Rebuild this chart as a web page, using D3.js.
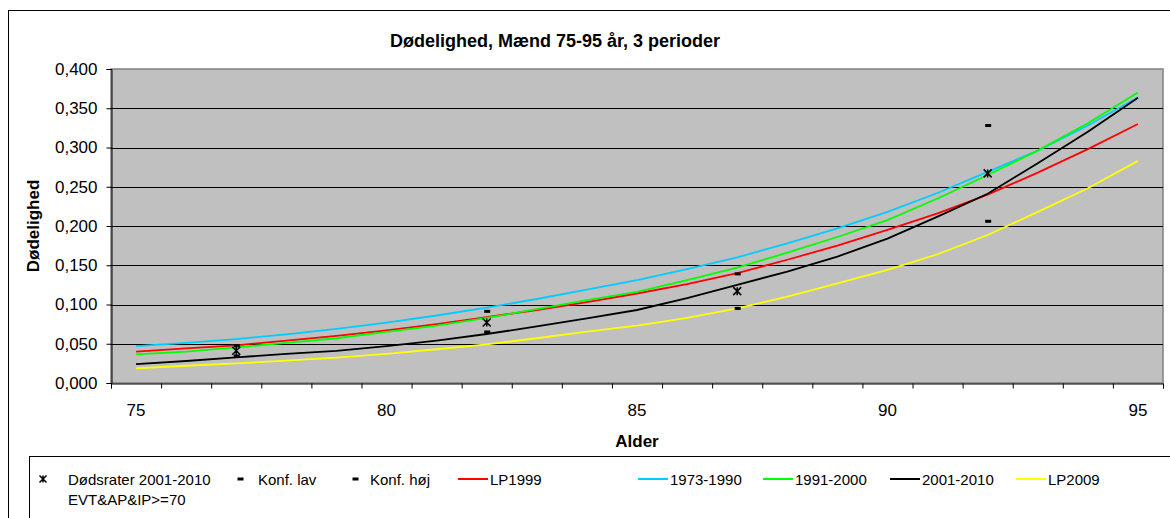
<!DOCTYPE html>
<html>
<head>
<meta charset="utf-8">
<script src="https://cdn.jsdelivr.net/npm/d3@7"></script>
<style>
  body { margin: 0; background: #fff; }
  svg { display: block; font-family: "Liberation Sans", Arial, sans-serif; }
</style>
</head>
<body>
<svg id="chart" width="1170" height="518"></svg>
<script>
// alder (kategorier)
const ages = [75, 76, 77, 78, 79, 80, 81, 82, 83, 84, 85, 86, 87, 88, 89, 90, 91, 92, 93, 94, 95]

// kurver
const lp1999   = [0.040, 0.044, 0.048, 0.054, 0.060, 0.067, 0.075, 0.084, 0.093, 0.103, 0.114, 0.126, 0.140, 0.157, 0.175, 0.195, 0.216, 0.240, 0.268, 0.298, 0.330]
const p1973    = [0.047, 0.051, 0.056, 0.062, 0.069, 0.077, 0.086, 0.096, 0.107, 0.119, 0.131, 0.145, 0.160, 0.178, 0.197, 0.218, 0.242, 0.269, 0.296, 0.328, 0.364]
const p1991    = [0.0365, 0.040, 0.0455, 0.051, 0.057, 0.065, 0.073, 0.083, 0.094, 0.1055, 0.116, 0.131, 0.147, 0.166, 0.186, 0.2075, 0.235, 0.265, 0.296, 0.331, 0.370]
const p2001    = [0.024, 0.028, 0.0327, 0.037, 0.041, 0.047, 0.054, 0.0624, 0.072, 0.0824, 0.093, 0.108, 0.125, 0.142, 0.161, 0.184, 0.212, 0.241, 0.280, 0.320, 0.3635]
const lp2009   = [0.0187, 0.022, 0.025, 0.0285, 0.0322, 0.037, 0.043, 0.0493, 0.057, 0.0654, 0.073, 0.083, 0.095, 0.110, 0.127, 0.144, 0.164, 0.1885, 0.218, 0.248, 0.283]

// observationer
const obsAges   = [77, 82, 87, 92]
const dodsrater = [0.041, 0.077, 0.117, 0.267]
const konfLav   = [0.0344, 0.065, 0.095, 0.206]
const konfHoj   = [0.0475, 0.0913, 0.139, 0.328]

const yTicks = [0, 0.05, 0.1, 0.15, 0.2, 0.25, 0.3, 0.35, 0.4]
const xLabels = [75, 80, 85, 90, 95]

const series = [
    {name: "LP1999", values: lp1999, color: "#ff0000"},
    {name: "1973-1990", values: p1973, color: "#00ccff"},
    {name: "1991-2000", values: p1991, color: "#00ff00"},
    {name: "2001-2010", values: p2001, color: "#000000"},
    {name: "LP2009", values: lp2009, color: "#ffff00"}
]

const svg = d3.select("#chart")
const pLeft = 111, pRight = 1163, pTop = 69, pBottom = 383

const x = d3.scaleBand().domain(ages).range([pLeft, pRight])
const xEdge = d3.scaleLinear().domain([0, ages.length]).range([pLeft, pRight])
const y = d3.scaleLinear().domain([0, 0.4]).range([pBottom, pTop])
const cx = a => x(a) + x.bandwidth() / 2

// ramme om diagrammet
svg.append("rect")
    .attr("x", 8.5).attr("y", 10.5)
    .attr("width", 1300).attr("height", 700)
    .attr("fill", "#fff").attr("stroke", "#000")

svg.append("text")
    .attr("x", 555).attr("y", 47)
    .attr("text-anchor", "middle")
    .style("font", "bold 18px 'Liberation Sans', Arial, sans-serif")
    .text("Dødelighed, Mænd 75-95 år, 3 perioder")

// plotområde
svg.append("rect")
    .attr("x", pLeft).attr("y", pTop)
    .attr("width", pRight - pLeft).attr("height", pBottom - pTop)
    .attr("fill", "#c0c0c0").attr("stroke", "#808080").attr("stroke-width", 1.5)

svg.append("g")
    .selectAll("line")
    .data(yTicks.filter(d => d > 0 && d < 0.4))
    .join("line")
    .attr("x1", pLeft).attr("x2", pRight)
    .attr("y1", d => Math.round(y(d)) + 0.5).attr("y2", d => Math.round(y(d)) + 0.5)
    .attr("stroke", "#000")

// y-akse
const yAxis = svg.append("g")
    .attr("transform", `translate(${pLeft + 0.5},0)`)
    .call(d3.axisLeft(y).tickValues(yTicks).tickSizeOuter(0).tickSize(5).tickPadding(9)
        .tickFormat(d => d3.format(".3f")(d).replace(".", ",")))
yAxis.selectAll("text").style("font-size", "17px").attr("fill", "#000")
yAxis.selectAll("line, path").attr("stroke", "#000")

// x-akse
svg.append("g")
    .attr("transform", `translate(0,${pBottom + 0.5})`)
    .call(d3.axisBottom(xEdge).ticks(ages.length).tickFormat("").tickSizeOuter(0).tickSize(5))
    .selectAll("line, path").attr("stroke", "#000")

const xAxis = svg.append("g")
    .attr("transform", `translate(0,${pBottom})`)
    .call(d3.axisBottom(x).tickValues(xLabels).tickSize(0).tickPadding(21))
xAxis.select(".domain").remove()
xAxis.selectAll("text").style("font-size", "17px").attr("fill", "#000")

svg.append("text")
    .attr("x", 637).attr("y", 447)
    .attr("text-anchor", "middle")
    .style("font", "bold 17px 'Liberation Sans', Arial, sans-serif")
    .text("Alder")

svg.append("text")
    .attr("transform", "translate(39,226) rotate(-90)")
    .attr("text-anchor", "middle")
    .style("font", "bold 17px 'Liberation Sans', Arial, sans-serif")
    .text("Dødelighed")

// kurver
const line = d3.line()
    .x((d, i) => cx(ages[i]))
    .y(d => y(d))

svg.append("g")
    .selectAll("path")
    .data(series)
    .join("path")
    .attr("d", d => line(d.values))
    .attr("fill", "none")
    .attr("stroke", d => d.color)
    .attr("stroke-width", 1.8)

// markører
const starPath = (px, py, r) =>
    `M${px - r},${py - r}L${px + r},${py + r}M${px - r},${py + r}L${px + r},${py - r}M${px},${py - r}L${px},${py + r}`

svg.append("g")
    .selectAll("path")
    .data(obsAges)
    .join("path")
    .attr("d", (a, i) => starPath(cx(a), y(dodsrater[i]), 4))
    .attr("stroke", "#000").attr("stroke-width", 1.5).attr("fill", "none")

const dashes = obsAges.flatMap((a, i) => [{a, v: konfLav[i]}, {a, v: konfHoj[i]}])
svg.append("g")
    .selectAll("rect")
    .data(dashes)
    .join("rect")
    .attr("x", d => cx(d.a) - 2.5).attr("y", d => y(d.v) - 1.5)
    .attr("width", 6).attr("height", 3)
    .attr("fill", "#000")

// forklaring
const legend = svg.append("g").style("font-size", "15px")
legend.append("rect")
    .attr("x", 29.5).attr("y", 456.5)
    .attr("width", 1300).attr("height", 200)
    .attr("fill", "#fff").attr("stroke", "#000")

const ly = 479
legend.append("path").attr("d", starPath(43, ly, 3.5))
    .attr("stroke", "#000").attr("stroke-width", 1.5).attr("fill", "none")
legend.append("text").attr("x", 68).attr("y", 485).text("Dødsrater 2001-2010")
legend.append("text").attr("x", 68).attr("y", 505).text("EVT&AP&IP>=70")

const dashItems = [
    {label: "Konf. lav", mx: 240, tx: 258},
    {label: "Konf. høj", mx: 355, tx: 370}
]
dashItems.forEach(d => {
    legend.append("rect").attr("x", d.mx - 2.5).attr("y", ly - 1.5).attr("width", 6).attr("height", 3).attr("fill", "#000")
    legend.append("text").attr("x", d.tx).attr("y", 485).text(d.label)
})

const lineStarts = [458, 638, 763, 890, 1016]
series.forEach((s, i) => {
    legend.append("line")
        .attr("x1", lineStarts[i]).attr("x2", lineStarts[i] + 30)
        .attr("y1", ly).attr("y2", ly)
        .attr("stroke", s.color).attr("stroke-width", 2)
    legend.append("text").attr("x", lineStarts[i] + 32).attr("y", 485).text(s.name)
})
</script>
</body>
</html>
